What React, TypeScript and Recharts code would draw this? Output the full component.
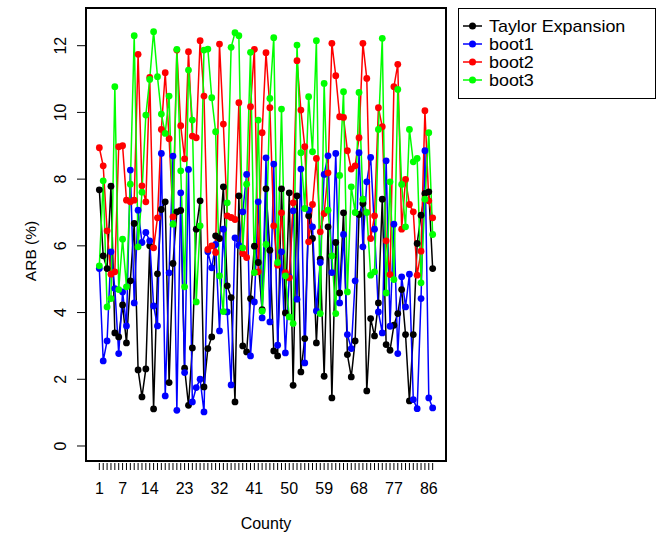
import { LineChart, Line, XAxis, YAxis, ReferenceArea } from "recharts";

// County index 1..87 and the four ARB series.
const counties = [
  1, 2, 3, 4, 5, 6, 7, 8, 9, 10, 11, 12, 13, 14, 15, 16, 17, 18, 19, 20, 21, 22,
  23, 24, 25, 26, 27, 28, 29, 30, 31, 32, 33, 34, 35, 36, 37, 38, 39, 40, 41, 42,
  43, 44, 45, 46, 47, 48, 49, 50, 51, 52, 53, 54, 55, 56, 57, 58, 59, 60, 61, 62,
  63, 64, 65, 66, 67, 68, 69, 70, 71, 72, 73, 74, 75, 76, 77, 78, 79, 80, 81, 82,
  83, 84, 85, 86, 87,
];

const taylor = [
  7.68, 5.7, 5.32, 7.79, 3.39, 3.27, 4.23, 3.09, 4.95, 6.67, 2.28, 1.47, 2.31, 6.0,
  1.11, 5.16, 7.09, 7.32, 1.9, 5.47, 7.02, 7.06, 2.33, 1.22, 2.94, 6.5, 7.35, 1.77,
  2.92, 3.27, 6.3, 6.22, 7.77, 4.8, 4.45, 1.32, 7.5, 3.0, 2.82, 4.42, 5.99, 5.5,
  4.09, 7.71, 5.87, 2.85, 2.7, 7.71, 3.99, 7.59, 1.82, 7.5, 2.22, 3.22, 6.9, 6.22,
  3.09, 5.6, 2.09, 6.57, 1.44, 6.1, 4.59, 6.99, 2.74, 2.07, 3.15, 6.94, 7.27, 1.65,
  3.82, 3.3, 4.29, 7.4, 3.04, 2.87, 3.62, 3.97, 4.69, 3.34, 1.35, 3.34, 6.07, 6.92,
  7.57, 7.62, 5.32,
];

const boot1 = [
  5.32, 2.55, 3.15, 5.82, 4.72, 2.77, 4.62, 3.6, 8.27, 4.29, 7.07, 6.1, 6.4, 6.15,
  4.2, 3.6, 8.77, 1.5, 5.19, 8.69, 1.07, 7.59, 2.2, 8.29, 1.32, 1.75, 2.0, 1.02,
  5.82, 5.34, 6.04, 3.45, 6.5, 4.02, 1.83, 6.24, 6.01, 7.02, 8.14, 2.7, 4.32, 7.32,
  3.84, 8.64, 3.72, 8.45, 3.02, 5.82, 2.79, 5.07, 7.05, 4.4, 8.3, 2.49, 7.07, 6.57,
  4.05, 5.5, 8.14, 8.7, 5.2, 8.77, 4.29, 6.34, 3.34, 2.92, 4.95, 8.79, 5.97, 7.92,
  8.65, 6.5, 4.02, 3.39, 8.55, 3.59, 6.65, 2.77, 5.07, 4.17, 5.15, 1.39, 1.12, 4.42,
  8.85, 1.44, 1.14,
];

const boot2 = [
  8.94, 8.4, 6.45, 5.15, 5.22, 8.97, 9.0, 7.37, 7.32, 7.37, 11.74, 7.8, 7.32, 11.05,
  5.94, 6.84, 9.49, 11.19, 9.21, 6.87, 11.87, 9.6, 8.61, 11.82, 9.29, 9.24, 12.15,
  10.49, 5.89, 6.0, 5.8, 12.05, 9.65, 6.9, 6.85, 6.79, 10.29, 5.77, 5.65, 10.17,
  11.89, 5.22, 9.39, 11.79, 10.14, 6.6, 5.42, 6.99, 5.2, 5.04, 7.29, 11.55, 10.07,
  8.97, 6.12, 7.24, 8.62, 6.42, 6.97, 8.19, 12.07, 11.1, 9.87, 9.85, 8.85, 8.3, 8.4,
  9.24, 12.07, 11.02, 6.22, 6.9, 10.14, 9.57, 6.15, 5.14, 10.77, 11.44, 6.5, 7.99,
  7.24, 7.02, 5.12, 5.84, 10.05, 7.35, 6.84,
];

const boot3 = [
  5.4, 7.95, 4.17, 4.42, 10.77, 4.69, 6.2, 4.77, 7.85, 12.3, 5.97, 7.61, 9.92, 10.99,
  12.42, 11.07, 9.95, 9.37, 10.49, 6.65, 11.89, 8.25, 4.77, 11.27, 9.77, 4.32, 6.6,
  11.87, 11.9, 10.44, 9.42, 5.1, 4.03, 7.29, 11.95, 12.39, 12.3, 5.94, 7.85, 11.8,
  5.2, 9.77, 4.04, 6.04, 10.42, 12.24, 5.5, 10.1, 5.1, 3.87, 3.67, 12.02, 8.79, 7.12,
  10.47, 8.82, 12.15, 3.97, 10.87, 7.07, 5.7, 3.97, 8.11, 10.62, 4.62, 7.77, 7.0,
  10.6, 7.4, 7.0, 5.12, 5.22, 9.49, 12.22, 4.59, 7.92, 4.99, 10.69, 7.84, 6.57, 9.49,
  8.52, 8.62, 4.89, 7.4, 9.39, 6.34,
];

const xLabels = [1, 7, 14, 23, 32, 41, 50, 59, 68, 77, 86];
const yTicks = [0, 2, 4, 6, 8, 10, 12];

const series = [
  { key: "taylor", name: "Taylor Expansion", color: "#000000" },
  { key: "boot1", name: "boot1", color: "#0000FF" },
  { key: "boot2", name: "boot2", color: "#FF0000" },
  { key: "boot3", name: "boot3", color: "#00FF00" },
];

const data = counties.map((c, i) => ({
  county: c,
  taylor: taylor[i],
  boot1: boot1[i],
  boot2: boot2[i],
  boot3: boot3[i],
}));

const FONT = "'Liberation Sans', Arial, Helvetica, sans-serif";
const X_DOMAIN: [number, number] = [-2.44, 90.44];
const Y_DOMAIN: [number, number] = [-0.45, 13.13];

function XTick(props: any) {
  const { x, y, payload } = props;
  const show = xLabels.includes(payload.value);
  return (
    <g>
      <line x1={x} x2={x} y1={y + 2} y2={y + 9} stroke="#000" strokeWidth={1} />
      {show && (
        <text x={x} y={y + 33} textAnchor="middle" fontSize={16} fontFamily={FONT} fill="#000">
          {payload.value}
        </text>
      )}
    </g>
  );
}

function YTick(props: any) {
  const { x, y, payload } = props;
  const tx = x - 20;
  return (
    <g>
      <line x1={x - 9} x2={x} y1={y} y2={y} stroke="#000" strokeWidth={1} />
      <text
        x={tx}
        y={y}
        transform={`rotate(-90, ${tx}, ${y})`}
        textAnchor="middle"
        fontSize={16}
        fontFamily={FONT}
        fill="#000"
      >
        {payload.value}
      </text>
    </g>
  );
}

function Overlay() {
  return (
    <svg
      width={666}
      height={533}
      style={{ position: "absolute", left: 0, top: 0, pointerEvents: "none" }}
    >
      <text x={266} y={529} textAnchor="middle" fontSize={16} fontFamily={FONT} fill="#000">
        County
      </text>
      <text
        x={36}
        y={251}
        transform="rotate(-90, 36, 251)"
        textAnchor="middle"
        fontSize={15.5}
        fontFamily={FONT}
        fill="#000"
      >
        ARB (%)
      </text>
      <rect x={458.5} y={8.5} width={197} height={90} fill="#fff" stroke="#000" strokeWidth={1} />
      {series.map((s, i) => {
        const cy = 26 + i * 18;
        return (
          <g key={s.key}>
            <line x1={463} x2={482} y1={cy} y2={cy} stroke={s.color} strokeWidth={1.5} />
            <circle cx={472.5} cy={cy} r={3.5} fill={s.color} />
            {/* legend text is drawn a bit wider than the axis text, as in the reference */}
            <text
              transform={`translate(489, ${cy + 5.5}) scale(1.12, 1)`}
              fontSize={16}
              fontFamily={FONT}
              fill="#000"
            >
              {s.name}
            </text>
          </g>
        );
      })}
    </svg>
  );
}

export default function App() {
  return (
    <div style={{ position: "relative", width: 666, height: 533, background: "#fff" }}>
      <style>{"body{margin:0}"}</style>
      <LineChart
        width={666}
        height={533}
        data={data}
        margin={{ top: 8, right: 220, bottom: 0, left: 0 }}
      >
        <XAxis
          type="number"
          dataKey="county"
          domain={X_DOMAIN}
          ticks={counties}
          interval={0}
          allowDataOverflow
          axisLine={false}
          tickLine={false}
          tickSize={0}
          tickMargin={0}
          height={72}
          tick={<XTick />}
        />
        <YAxis
          type="number"
          domain={Y_DOMAIN}
          ticks={yTicks}
          allowDataOverflow
          axisLine={false}
          tickLine={false}
          tickSize={0}
          tickMargin={0}
          width={86}
          tick={<YTick />}
        />
        <ReferenceArea
          x1={X_DOMAIN[0]}
          x2={X_DOMAIN[1]}
          y1={Y_DOMAIN[0]}
          y2={Y_DOMAIN[1]}
          fill="none"
          stroke="#000"
          strokeWidth={2}
          ifOverflow="visible"
        />
        {series.map((s) => (
          <Line
            key={s.key}
            type="linear"
            dataKey={s.key}
            name={s.name}
            stroke={s.color}
            strokeWidth={1.5}
            dot={{ r: 3.4, fill: s.color, stroke: s.color, strokeWidth: 0 }}
            activeDot={false}
            isAnimationActive={false}
          />
        ))}
      </LineChart>
      <Overlay />
    </div>
  );
}
